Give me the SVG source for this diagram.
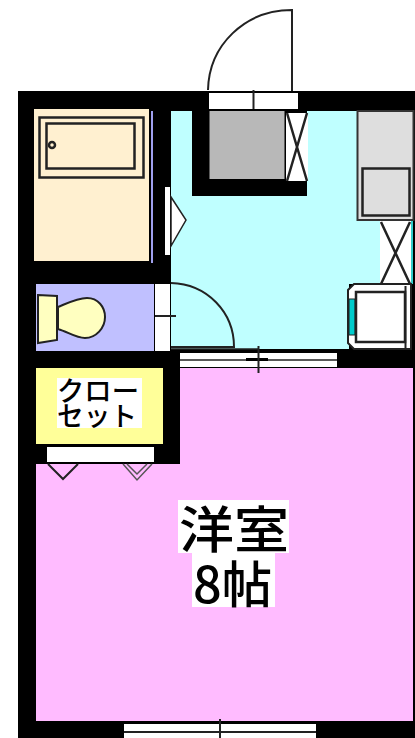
<svg xmlns="http://www.w3.org/2000/svg" width="415" height="738" viewBox="0 0 415 738">
<style>
.o{fill:none;stroke:#222;stroke-width:2.500}
.l{stroke:#222;stroke-width:2;fill:none}
.w{fill:#fff}
.t{font-family:"Noto Sans CJK JP","Noto Sans CJK SC",sans-serif;fill:#000;font-weight:500}
</style>
<rect width="415" height="738" fill="#fff"/>
<rect x="18" y="91" width="397" height="647" fill="#000"/>
<g id="ldk">
<path d="M171 111H358V220H411V284H349V349H171Z" fill="#bfffff"/>
<rect x="411" y="220" width="2" height="64" fill="#3cc"/>
</g>
<g id="entry">
<rect x="192" y="91" width="115" height="105" fill="#000"/>
<rect x="209" y="93" width="89" height="16" class="w"/>
<path d="M253.500 90V109" stroke="#222" stroke-width="2"/>
<rect x="209.500" y="111" width="75" height="68" fill="#b8b8b8"/>
<rect x="286" y="113" width="22" height="68" class="w"/>
<path d="M287 113L307 181M307 113L287 181" stroke="#222" stroke-width="2.500"/>
<path d="M208 90C209 45 245 10 292 10V91" class="l"/>
</g>
<g id="bath">
<rect x="34" y="109" width="115" height="152" fill="#fff0d0"/>
<rect x="151" y="111" width="2" height="152" fill="#a0a0ee"/>
<rect x="39.500" y="117.500" width="104" height="60" class="o"/>
<rect x="46.500" y="123.500" width="88" height="45" class="o"/>
<circle cx="52" cy="145" r="3" fill="none" stroke="#222" stroke-width="2.500"/>
<rect x="165" y="187" width="5" height="68" class="w"/>
<path d="M171 197L186 220L171 246Z" fill="#fff" stroke="#222" stroke-width="1.500"/>
</g>
<g id="kitchen">
<rect x="357.500" y="111" width="56" height="109" fill="#dedede" stroke="#333" stroke-width="2"/>
<rect x="362.500" y="168.500" width="47" height="47" fill="#dedede" stroke="#222" stroke-width="2.500"/>
<rect x="380" y="221" width="31" height="63" class="w"/>
<path d="M381 222L410 284M410 222L381 284" stroke="#222" stroke-width="2.500"/>
</g>
<g id="laundry">
<path d="M354 284H411V349H354L348 343V290Z" fill="#fff" stroke="#222" stroke-width="2"/>
<rect x="349" y="299" width="6" height="36" fill="#0cc" stroke="#222"/>
<rect x="356" y="292" width="49" height="50" class="w" stroke="#222" stroke-width="2.500"/>
<path d="M405.500 286V349" stroke="#222" stroke-width="2"/>
</g>
<g id="toilet">
<rect x="36" y="284" width="118" height="67" fill="#c0c0ff"/>
<rect x="155" y="284" width="15" height="67" class="w"/>
<path d="M155 316H176" stroke="#222" stroke-width="2"/>
<path d="M171 283C207 284 234 312 234 347H171" class="l"/>
<path d="M171 349H258" stroke="#222" stroke-width="1.500"/>
<path d="M38 295L57 296V340L38 343Z" fill="#ffffc0" stroke="#222" stroke-width="2"/>
<path d="M58 307C70 302 78 298 87 298C98 298 105 307 105 317C105 328 96 338 85 338C76 338 68 332 58 329Z" fill="#ffffc0" stroke="#222" stroke-width="2"/>
</g>
<g id="room">
<path d="M36 464H180V368H413V721H36Z" fill="#ffbbff"/>
<rect x="180" y="353" width="157" height="14" class="w"/>
<path d="M180 360H246M268 360H337" stroke="#222" stroke-width="1.500"/>
<path d="M246 359.500H268" stroke="#000" stroke-width="3"/>
<path d="M258.500 346V373" stroke="#222" stroke-width="2"/>
<rect x="124" y="724" width="192" height="14" class="w"/>
<path d="M124 732H316" stroke="#222" stroke-width="2"/>
<path d="M220 719V738" stroke="#222" stroke-width="2"/>
<rect x="178" y="500" width="111" height="53" class="w"/>
<rect x="192" y="553" width="83" height="54" class="w"/>
<text class="t" x="179" y="548" font-size="50" textLength="110" lengthAdjust="spacingAndGlyphs">洋室</text>
<text class="t" x="193" y="603" font-size="50" textLength="79" lengthAdjust="spacingAndGlyphs">8帖</text>
</g>
<g id="closet">
<rect x="36" y="368" width="127" height="76" fill="#ffff99"/>
<rect x="57" y="378" width="85" height="50" class="w"/>
<text class="t" x="57" y="401" font-size="27" textLength="82" lengthAdjust="spacingAndGlyphs">クロー</text>
<text class="t" x="57" y="426" font-size="27" textLength="80" lengthAdjust="spacingAndGlyphs">セット</text>
<rect x="47" y="447" width="107" height="15" class="w"/>
<path d="M48 464L63 479L78 464" class="l"/>
<path d="M123 464L137 480L152 464M127 464L137 474L147 464" stroke="#555" stroke-width="1.500" fill="none"/>
</g>
</svg>
